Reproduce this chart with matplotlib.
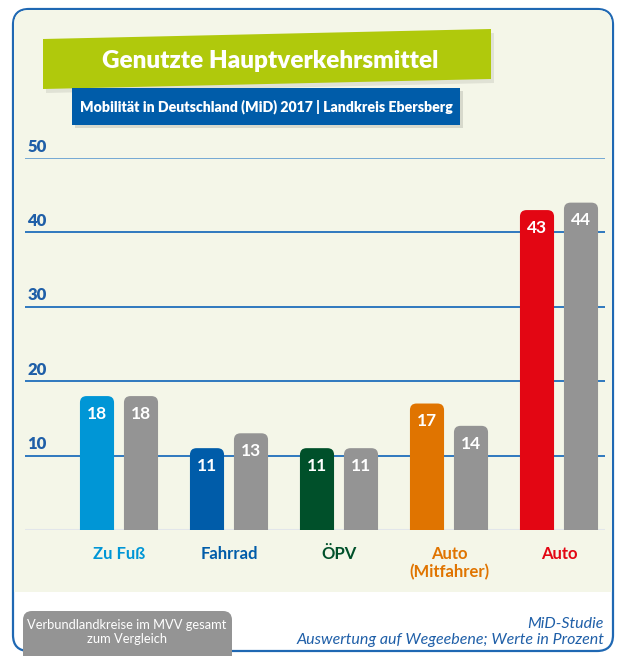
import matplotlib
matplotlib.use("Agg")
import matplotlib.pyplot as plt
from matplotlib.patches import FancyBboxPatch, Polygon, Rectangle

# data
categories = ["Zu Fuß", "Fahrrad", "ÖPV", "Auto\n(Mitfahrer)", "Auto"]
ebersberg = [18, 11, 11, 17, 43]
mvv_total = [18, 13, 11, 14, 44]
cat_colors = ["#0096D6", "#005CA9", "#00502A", "#E07400", "#E30613"]
gray = "#949494"
yticks = [10, 20, 30, 40, 50]

W, H = 618, 656
fig = plt.figure(figsize=(W / 100, H / 100), dpi=100)

# background layer in pixel coordinates
bg = fig.add_axes([0, 0, 1, 1], zorder=0)
bg.set_xlim(0, W)
bg.set_ylim(H, 0)
bg.axis("off")

cream = "#F4F6E8"
blue = "#1F68B3"
narrow = ["Lato", "DejaVu Sans"]
# outer frame
bg.add_patch(FancyBboxPatch((13, 9), 600, 642, boxstyle="round,pad=0,rounding_size=16",
                            fc="white", ec=blue, lw=1.6))
bg.add_patch(FancyBboxPatch((14, 10), 598, 582, boxstyle="round,pad=0,rounding_size=15",
                            fc=cream, ec="none"))
bg.add_patch(Rectangle((14, 560), 598, 32, fc=cream, ec="none"))

# green title banner (slightly tilted), light shadow
bg.add_patch(Polygon([(46, 43), (494, 33), (494, 83), (46, 93)], closed=True,
                     fc="#00000014", ec="none"))
bg.add_patch(Polygon([(43, 39), (491, 29), (491, 79), (43, 89)], closed=True,
                     fc="#B0C90C", ec="none"))
bg.text(270, 61, "Genutzte Hauptverkehrsmittel", color="white", fontsize=17.5,
        fontweight="heavy", family=narrow, ha="center", va="center")

# blue subtitle box with shadow
bg.add_patch(Rectangle((75, 91), 388, 37, fc="#0000001E", ec="none"))
bg.add_patch(Rectangle((72, 88), 388, 37, fc="#005CA9", ec="none"))
bg.text(266, 107, "Mobilität in Deutschland (MiD) 2017 | Landkreis Ebersberg",
        color="white", fontsize=10.2, fontweight="heavy", family=narrow,
        ha="center", va="center")

# bottom legend box
bg.add_patch(FancyBboxPatch((23, 611), 209, 60, boxstyle="round,pad=0,rounding_size=9",
                            fc=gray, ec="none"))
bg.text(127, 632, "Verbundlandkreise im MVV gesamt\nzum Vergleich", color="white",
        fontsize=9.3, family=narrow, ha="center", va="center", linespacing=1.25)
bg.text(604, 632, "MiD-Studie\nAuswertung auf Wegeebene; Werte in Prozent",
        color="#1F5FA8", fontsize=11.5, family=narrow, style="italic",
        ha="right", va="center", linespacing=1.1)

# chart axes
left, right, bottom, top = 25, 605, 530, 158
ax = fig.add_axes([left / W, 1 - bottom / H, (right - left) / W, (bottom - top) / H], zorder=1)
ax.patch.set_alpha(0)
x0 = (left - 119) / 110
ax.set_xlim(x0, x0 + (right - left) / 110)
ax.set_ylim(0, 50)
for s in ax.spines.values():
    s.set_visible(False)
ax.set_xticks([])
ax.set_yticks([])

for t in yticks:
    ax.axhline(t, color="#2E78BE" if t < 50 else "#74A8D4", lw=1.4, zorder=1)
    ax.text(x0 + 0.02, t + 0.45, str(t), color="#1F5FA8", fontsize=12,
            fontweight="heavy", family=narrow, ha="left", va="bottom")
ax.axhline(0, color="#E2E6EA", lw=1.5, zorder=1)

bw = 0.31
off = 0.2
aspect = (10 / 74.5) / (1 / 110)
xs = list(range(len(categories)))


def rounded_bars(xpos, vals, colors):
    bars = ax.bar(xpos, vals, width=bw, color=colors)
    for b, v, c in zip(bars, vals, colors):
        b.set_visible(False)
        p = FancyBboxPatch((b.get_x(), -5), b.get_width(), b.get_height() + 5,
                           boxstyle="round,pad=0,rounding_size=0.06",
                           mutation_aspect=aspect, fc=c, ec="none", zorder=2)
        ax.add_patch(p)
        ax.text(b.get_x() + b.get_width() / 2, v - 2.4, str(v), color="white",
                fontsize=12.5, fontweight="bold", family=narrow,
                ha="center", va="center", zorder=3)


rounded_bars([x - off for x in xs], ebersberg, cat_colors)
rounded_bars([x + off for x in xs], mvv_total, [gray] * len(xs))

for x, lab, c in zip(xs, categories, cat_colors):
    ax.text(x, -2.2, lab, color=c, fontsize=12, fontweight="bold",
            family=narrow, ha="center", va="top", linespacing=1.1, clip_on=False)

fig.savefig("out.png", dpi=100)
